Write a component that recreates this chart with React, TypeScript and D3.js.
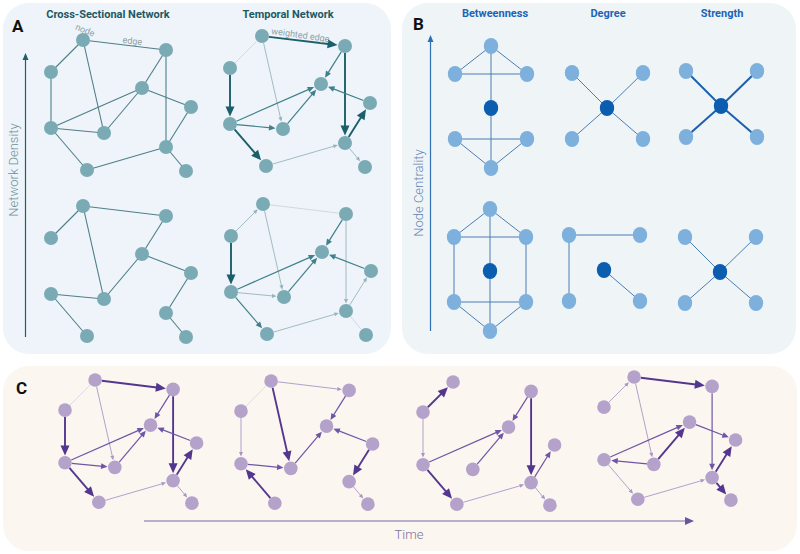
import React from 'react';
import * as d3 from 'd3';

const W = 800;
const H = 554;

// Shared node layout (relative units) for panels A and C
const nodeIds = ['top', 'rightTop', 'left', 'center', 'farRight', 'leftBottom', 'middle', 'rightBottom', 'bottom', 'farRightBottom'];
const nodeX = [32, 115, 0, 91, 140, 0, 53, 115, 36, 135];
const nodeY = [0, 10, 32, 48, 67, 88, 93, 107, 130, 131];

// Panel A cross-sectional edges (undirected)
const crossDense = [
  ['top', 'rightTop'], ['top', 'left'], ['top', 'middle'], ['rightTop', 'center'], ['rightTop', 'rightBottom'],
  ['left', 'leftBottom'], ['leftBottom', 'center'], ['leftBottom', 'middle'], ['leftBottom', 'bottom'],
  ['middle', 'center'], ['center', 'farRight'], ['farRight', 'rightBottom'], ['rightBottom', 'bottom'],
  ['rightBottom', 'farRightBottom'],
];
const crossSparse = [
  ['top', 'rightTop'], ['top', 'left'], ['top', 'middle'], ['rightTop', 'center'], ['center', 'farRight'],
  ['center', 'middle'], ['leftBottom', 'middle'], ['leftBottom', 'bottom'], ['farRight', 'rightBottom'],
  ['rightBottom', 'farRightBottom'],
];

// Directed weighted edges [source, target, weight 1..4]
const temporalDense: [string, string, number][] = [
  ['left', 'top', 1], ['top', 'rightTop', 4], ['top', 'middle', 2], ['rightTop', 'center', 3],
  ['rightTop', 'rightBottom', 4], ['left', 'leftBottom', 4], ['leftBottom', 'center', 3],
  ['leftBottom', 'middle', 3], ['leftBottom', 'bottom', 4], ['middle', 'center', 3], ['farRight', 'center', 3],
  ['rightBottom', 'farRight', 4], ['bottom', 'rightBottom', 2], ['rightBottom', 'farRightBottom', 2],
];
const temporalSparse: [string, string, number][] = [
  ['left', 'top', 2], ['top', 'rightTop', 1], ['top', 'middle', 2], ['rightTop', 'center', 3],
  ['rightTop', 'rightBottom', 2], ['left', 'leftBottom', 4], ['leftBottom', 'center', 3],
  ['leftBottom', 'middle', 2], ['leftBottom', 'bottom', 3], ['middle', 'center', 3], ['farRight', 'center', 3],
  ['rightBottom', 'farRight', 2], ['bottom', 'rightBottom', 2], ['rightBottom', 'farRightBottom', 1],
];
const timeNet2: [string, string, number][] = [
  ['left', 'top', 1], ['top', 'rightTop', 2], ['top', 'middle', 4], ['left', 'leftBottom', 2],
  ['leftBottom', 'middle', 3], ['bottom', 'leftBottom', 4], ['middle', 'center', 3], ['rightTop', 'center', 3],
  ['farRight', 'center', 3], ['farRight', 'rightBottom', 4], ['rightBottom', 'farRightBottom', 2],
];
const timeNet3: [string, string, number][] = [
  ['left', 'top', 4], ['left', 'leftBottom', 2], ['leftBottom', 'center', 3], ['middle', 'center', 3],
  ['leftBottom', 'bottom', 4], ['bottom', 'rightBottom', 2], ['rightTop', 'center', 3],
  ['rightTop', 'rightBottom', 4], ['rightBottom', 'farRight', 3], ['rightBottom', 'farRightBottom', 2],
];
const timeNet4: [string, string, number][] = [
  ['left', 'top', 2], ['top', 'rightTop', 4], ['top', 'middle', 2], ['rightTop', 'rightBottom', 3],
  ['leftBottom', 'center', 3], ['middle', 'leftBottom', 3], ['middle', 'center', 4], ['center', 'farRight', 3],
  ['leftBottom', 'bottom', 2], ['bottom', 'rightBottom', 2], ['rightBottom', 'farRight', 4],
  ['rightBottom', 'farRightBottom', 4],
];

// Panel B mini-networks
const betwIds = ['t', 'l', 'r', 'c', 'bl', 'br', 'b'];
const betwX = [0, -36, 36, 0, -36, 36, 0];
const betwY = [-62, -34, -34, 0, 31, 31, 60];
const betwHighEdges = [['t', 'l'], ['t', 'r'], ['l', 'r'], ['t', 'b'], ['bl', 'br'], ['bl', 'b'], ['br', 'b']];
const betwLowEdges = [['t', 'l'], ['t', 'r'], ['l', 'r'], ['l', 'bl'], ['r', 'br'], ['t', 'b'], ['bl', 'br'], ['bl', 'b'], ['br', 'b']];
const starIds = ['c', 'tl', 'tr', 'bl', 'br'];
const starX = [0, -35, 36, -35, 36];
const starY = [0, -35, -35, 31, 31];
const starEdges = [['c', 'tl'], ['c', 'tr'], ['c', 'bl'], ['c', 'br']];
const degreeLowEdges = [['tl', 'tr'], ['tl', 'bl'], ['c', 'br']];

const titlesA = ['Cross-Sectional Network', 'Temporal Network'];
const titlesB = ['Betweenness', 'Degree', 'Strength'];

const tealStyles = [
  null,
  { c: '#c6d3d6', w: 0.8, L: 0 },
  { c: '#98b4ba', w: 0.9, L: 4.5 },
  { c: '#40808a', w: 1.2, L: 6.5 },
  { c: '#1b5f6a', w: 1.9, L: 10 },
];
const purpleStyles = [
  null,
  { c: '#dbd3e5', w: 0.8, L: 0 },
  { c: '#a797c6', w: 0.9, L: 4.5 },
  { c: '#6f55a6', w: 1.2, L: 6.5 },
  { c: '#53378f', w: 1.9, L: 10 },
];

function layoutScales(x0: number, y0: number, s: number) {
  const sx = d3.scaleLinear().domain([0, 1]).range([x0, x0 + s]);
  const sy = d3.scaleLinear().domain([0, 1]).range([y0, y0 + s]);
  const pos = new Map<string, [number, number]>();
  nodeIds.forEach((id, i) => pos.set(id, [sx(nodeX[i]), sy(nodeY[i])]));
  return pos;
}

function UndirectedNet({ x0, y0, s, r, edges, fill, stroke }: any) {
  const pos = layoutScales(x0, y0, s);
  const line = d3.line();
  return (
    <g>
      {edges.map((e: string[], i: number) => (
        <path key={i} d={line([pos.get(e[0])!, pos.get(e[1])!]) || ''} stroke={stroke} strokeWidth={1.1} fill="none" />
      ))}
      {nodeIds.map((id) => {
        const p = pos.get(id)!;
        return <circle key={id} cx={p[0]} cy={p[1]} r={r} fill={fill} />;
      })}
    </g>
  );
}

function DirectedNet({ x0, y0, s, r, edges, fill, styles }: any) {
  const pos = layoutScales(x0, y0, s);
  const line = d3.line();
  return (
    <g>
      {edges.map((e: [string, string, number], i: number) => {
        const st = styles[e[2]];
        const a = pos.get(e[0])!;
        const b = pos.get(e[1])!;
        const dx = b[0] - a[0];
        const dy = b[1] - a[1];
        const len = Math.hypot(dx, dy);
        const ux = dx / len;
        const uy = dy / len;
        const start: [number, number] = [a[0] + ux * r, a[1] + uy * r];
        const tip: [number, number] = [b[0] - ux * (r + 0.5), b[1] - uy * (r + 0.5)];
        const endOff = st.L > 0 ? st.L * 0.7 : 0;
        const end: [number, number] = [tip[0] - ux * endOff, tip[1] - uy * endOff];
        const base: [number, number] = [tip[0] - ux * st.L, tip[1] - uy * st.L];
        const hw = st.L * 0.45;
        const p1: [number, number] = [base[0] - uy * hw, base[1] + ux * hw];
        const p2: [number, number] = [base[0] + uy * hw, base[1] - ux * hw];
        return (
          <g key={i}>
            <path d={line([start, end]) || ''} stroke={st.c} strokeWidth={st.w} fill="none" />
            {st.L > 0 && <path d={(line([tip, p1, p2]) || '') + 'Z'} fill={st.c} />}
          </g>
        );
      })}
      {nodeIds.map((id) => {
        const p = pos.get(id)!;
        return <circle key={id} cx={p[0]} cy={p[1]} r={r} fill={fill} />;
      })}
    </g>
  );
}

function MiniNet({ cx, cy, ids, xs, ys, edges, dark, edgeColor, edgeWidth }: any) {
  const sx = d3.scaleLinear().domain([0, 1]).range([cx, cx + 1]);
  const sy = d3.scaleLinear().domain([0, 1]).range([cy, cy + 1]);
  const pos = new Map<string, [number, number]>();
  ids.forEach((id: string, i: number) => pos.set(id, [sx(xs[i]), sy(ys[i])]));
  const line = d3.line();
  return (
    <g>
      {edges.map((e: string[], i: number) => (
        <path key={i} d={line([pos.get(e[0])!, pos.get(e[1])!]) || ''} stroke={edgeColor} strokeWidth={edgeWidth} fill="none" />
      ))}
      {ids.map((id: string) => {
        const p = pos.get(id)!;
        return <ellipse key={id} cx={p[0]} cy={p[1]} rx={7.2} ry={8} fill={id === dark ? '#0b5db0' : '#7db0dc'} />;
      })}
    </g>
  );
}

function VArrow({ x, y1, y2, color }: any) {
  return (
    <g>
      <line x1={x} x2={x} y1={y1} y2={y2 + 4} stroke={color} strokeWidth={1.2} />
      <path d={`M${x},${y2} L${x - 3},${y2 + 7} L${x + 3},${y2 + 7} Z`} fill={color} />
    </g>
  );
}

export default function App() {
  const font = 'Roboto, "Noto Sans", sans-serif';
  return (
    <svg width={W} height={H} style={{ position: 'absolute', left: 0, top: 0, background: '#ffffff' }} fontFamily={font}>
      {/* panel backgrounds */}
      <rect x={3} y={3} width={388} height={351} rx={26} fill="#eef4fa" />
      <rect x={402} y={3} width={394} height={351} rx={26} fill="#eff5f6" />
      <rect x={3} y={366} width={794} height={185} rx={26} fill="#fcf6f1" />

      {/* Panel A */}
      <text x={12} y={32} fontSize={17} fontWeight={700} fill="#111">A</text>
      <text x={108} y={18} fontSize={11} fontWeight={700} fill="#1e5963" textAnchor="middle">{titlesA[0]}</text>
      <text x={288} y={18} fontSize={11} fontWeight={700} fill="#1e5963" textAnchor="middle">{titlesA[1]}</text>
      <VArrow x={25.5} y1={337} y2={53} color="#1e5f6a" />
      <text transform="translate(18,170) rotate(-90)" fontSize={13} fontWeight={300} fill="#6f9096" textAnchor="middle">Network Density</text>

      <UndirectedNet x0={51} y0={40} s={1} r={7} edges={crossDense} fill="#7aabb5" stroke="#4e7f88" />
      <UndirectedNet x0={51} y0={206} s={1} r={7} edges={crossSparse} fill="#7aabb5" stroke="#4e7f88" />
      <DirectedNet x0={230} y0={36} s={1} r={7} edges={temporalDense} fill="#7aabb5" styles={tealStyles} />
      <DirectedNet x0={231} y0={204} s={1} r={7} edges={temporalSparse} fill="#7aabb5" styles={tealStyles} />

      <text transform="translate(84,33) rotate(22)" fontSize={9} fill="#8fa1a5" textAnchor="middle">node</text>
      <text transform="translate(132,44) rotate(7)" fontSize={9} fill="#8fa1a5" textAnchor="middle">edge</text>
      <text transform="translate(300,38) rotate(8)" fontSize={9} fill="#8fa1a5" textAnchor="middle">weighted edge</text>

      {/* Panel B */}
      <text x={413} y={30} fontSize={17} fontWeight={700} fill="#111">B</text>
      <text x={495} y={17} fontSize={11} fontWeight={700} fill="#1c64b5" textAnchor="middle">{titlesB[0]}</text>
      <text x={608} y={17} fontSize={11} fontWeight={700} fill="#1c64b5" textAnchor="middle">{titlesB[1]}</text>
      <text x={722} y={17} fontSize={11} fontWeight={700} fill="#1c64b5" textAnchor="middle">{titlesB[2]}</text>
      <VArrow x={430.5} y1={331} y2={35} color="#2f6eb4" />
      <text transform="translate(423,193) rotate(-90)" fontSize={13} fontWeight={300} fill="#5f86b6" textAnchor="middle">Node Centrality</text>

      <MiniNet cx={491} cy={108} ids={betwIds} xs={betwX} ys={betwY} edges={betwHighEdges} dark="c" edgeColor="#4c7db5" edgeWidth={1} />
      <MiniNet cx={490} cy={271} ids={betwIds} xs={betwX} ys={betwY} edges={betwLowEdges} dark="c" edgeColor="#4c7db5" edgeWidth={1} />
      <MiniNet cx={607} cy={108} ids={starIds} xs={starX} ys={starY} edges={starEdges} dark="c" edgeColor="#4c7db5" edgeWidth={1} />
      <MiniNet cx={604} cy={270} ids={starIds} xs={starX} ys={starY} edges={degreeLowEdges} dark="c" edgeColor="#4c7db5" edgeWidth={1} />
      <MiniNet cx={721} cy={106} ids={starIds} xs={starX} ys={starY} edges={starEdges} dark="c" edgeColor="#1d5fae" edgeWidth={2} />
      <MiniNet cx={720} cy={272} ids={starIds} xs={starX} ys={starY} edges={starEdges} dark="c" edgeColor="#4c7db5" edgeWidth={1} />

      {/* Panel C */}
      <text x={16} y={394} fontSize={17} fontWeight={700} fill="#111">C</text>
      <DirectedNet x0={65} y0={380} s={0.94} r={6.8} edges={temporalDense} fill="#b4a2cb" styles={purpleStyles} />
      <DirectedNet x0={241} y0={381} s={0.94} r={6.8} edges={timeNet2} fill="#b4a2cb" styles={purpleStyles} />
      <DirectedNet x0={423} y0={382} s={0.94} r={6.8} edges={timeNet3} fill="#b4a2cb" styles={purpleStyles} />
      <DirectedNet x0={604} y0={377} s={0.94} r={6.8} edges={timeNet4} fill="#b4a2cb" styles={purpleStyles} />

      <line x1={144} x2={686} y1={521} y2={521} stroke="#7a66aa" strokeWidth={1.2} />
      <path d="M694,521 L685,517 L685,525 Z" fill="#6a55a0" />
      <text x={409} y={539} fontSize={13} fontWeight={300} fill="#7d7098" textAnchor="middle">Time</text>
    </svg>
  );
}
